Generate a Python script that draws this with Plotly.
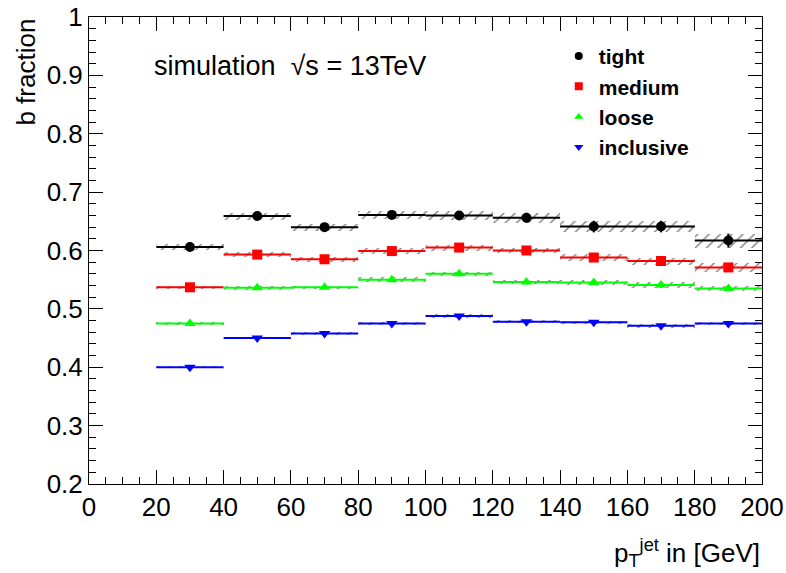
import plotly.graph_objects as go

bin_lo = [20, 40, 60, 80, 100, 120, 140, 160, 180]
bin_hi = [40, 60, 80, 100, 120, 140, 160, 180, 200]

tight = [0.606, 0.659, 0.640, 0.661, 0.660, 0.656, 0.641, 0.641, 0.617]
tight_err = [0.005, 0.006, 0.006, 0.007, 0.007, 0.0085, 0.010, 0.010, 0.012]
medium = [0.537, 0.593, 0.585, 0.599, 0.605, 0.600, 0.588, 0.582, 0.571]
medium_err = [0.003, 0.004, 0.004, 0.005, 0.005, 0.005, 0.006, 0.006, 0.007]
loose = [0.475, 0.536, 0.537, 0.550, 0.560, 0.546, 0.545, 0.541, 0.535]
loose_err = [0.003, 0.003, 0.003, 0.004, 0.004, 0.004, 0.004, 0.005, 0.005]
inclusive = [0.400, 0.450, 0.458, 0.475, 0.488, 0.478, 0.477, 0.471, 0.475]
inclusive_err = [0.002, 0.002, 0.002, 0.003, 0.003, 0.003, 0.003, 0.003, 0.003]

series = [
    ("tight", tight, tight_err, "black", "circle"),
    ("medium", medium, medium_err, "#ff0000", "square"),
    ("loose", loose, loose_err, "#00ff00", "triangle-up"),
    ("inclusive", inclusive, inclusive_err, "#0000ff", "triangle-down"),
]

centers = [(a + b) / 2 for a, b in zip(bin_lo, bin_hi)]
widths = [b - a for a, b in zip(bin_lo, bin_hi)]

fig = go.Figure()
FONT = "Liberation Sans, Arial, Helvetica, sans-serif"

for name, vals, errs, col, sym in series:
    # hatched uncertainty band
    fig.add_trace(go.Bar(
        x=centers, y=[2 * e for e in errs], base=[v - e for v, e in zip(vals, errs)],
        width=widths,
        marker=dict(color="rgba(0,0,0,0)", line=dict(width=0),
                    pattern=dict(shape="/", fgcolor="black", bgcolor="rgba(0,0,0,0)",
                                 size=8, solidity=0.18)),
        showlegend=False, hoverinfo="skip",
    ))
    # horizontal bin lines
    xs, ys = [], []
    for a, b, v in zip(bin_lo, bin_hi, vals):
        xs += [a, b, None]
        ys += [v, v, None]
    fig.add_trace(go.Scatter(x=xs, y=ys, mode="lines", line=dict(color=col, width=2),
                             showlegend=False, hoverinfo="skip"))
    # markers
    fig.add_trace(go.Scatter(
        x=centers, y=vals, mode="markers",
        marker=dict(color=col, symbol=sym, size=10),
        error_y=dict(type="data", array=errs, color=col, thickness=2, width=0),
        showlegend=False,
    ))

for i, (name, vals, errs, col, sym) in enumerate(series):
    fig.add_trace(go.Scatter(
        x=[None], y=[None], mode="markers", name="<b>" + name + "</b>",
        marker=dict(color=col, symbol=sym, size=8), legendgroup=name,
    ))

fig.update_layout(
    width=786, height=573,
    margin=dict(l=89, r=24, t=17, b=89, autoexpand=False),
    paper_bgcolor="white", plot_bgcolor="white",
    barmode="overlay", bargap=0,
    font=dict(family=FONT, size=26, color="black"),
    showlegend=True,
    legend=dict(x=0.698, y=0.9595, xanchor="left", yanchor="top",
                font=dict(size=21, family=FONT), bgcolor="rgba(0,0,0,0)",
                tracegroupgap=0, itemwidth=30),
    xaxis=dict(range=[0, 200], dtick=20, tick0=0, ticks="inside", ticklen=14,
               tickwidth=1, tickcolor="black", showline=True, linecolor="black",
               linewidth=1, mirror="allticks", showgrid=False, zeroline=False,
               tickfont=dict(size=26), automargin=False,
               minor=dict(dtick=5, ticks="inside", ticklen=7, tickcolor="black", showgrid=False)),
    yaxis=dict(range=[0.2, 1.0], dtick=0.1, tick0=0.2, ticks="inside", ticklen=14,
               tickwidth=1, tickcolor="black", showline=True, linecolor="black",
               linewidth=1, mirror="allticks", showgrid=False, zeroline=False,
               tickfont=dict(size=26), automargin=False,
               minor=dict(dtick=0.02, ticks="inside", ticklen=7, tickcolor="black", showgrid=False)),
    annotations=[
        dict(text="b fraction", xref="paper", yref="paper", x=-0.095, y=1.0,
             xanchor="center", yanchor="top", textangle=-90, showarrow=False,
             font=dict(size=26)),
        dict(text="p<sub>T</sub><sup>jet</sup> in [GeV]", xref="paper", yref="paper",
             x=1.0, y=-0.105, xanchor="right", yanchor="top", showarrow=False,
             font=dict(size=26)),
        dict(text="simulation  √s = 13TeV", xref="paper", yref="paper",
             x=0.094, y=0.896, xanchor="left", yanchor="middle", showarrow=False,
             font=dict(size=27)),
    ],
)

fig.write_html("out.html")
